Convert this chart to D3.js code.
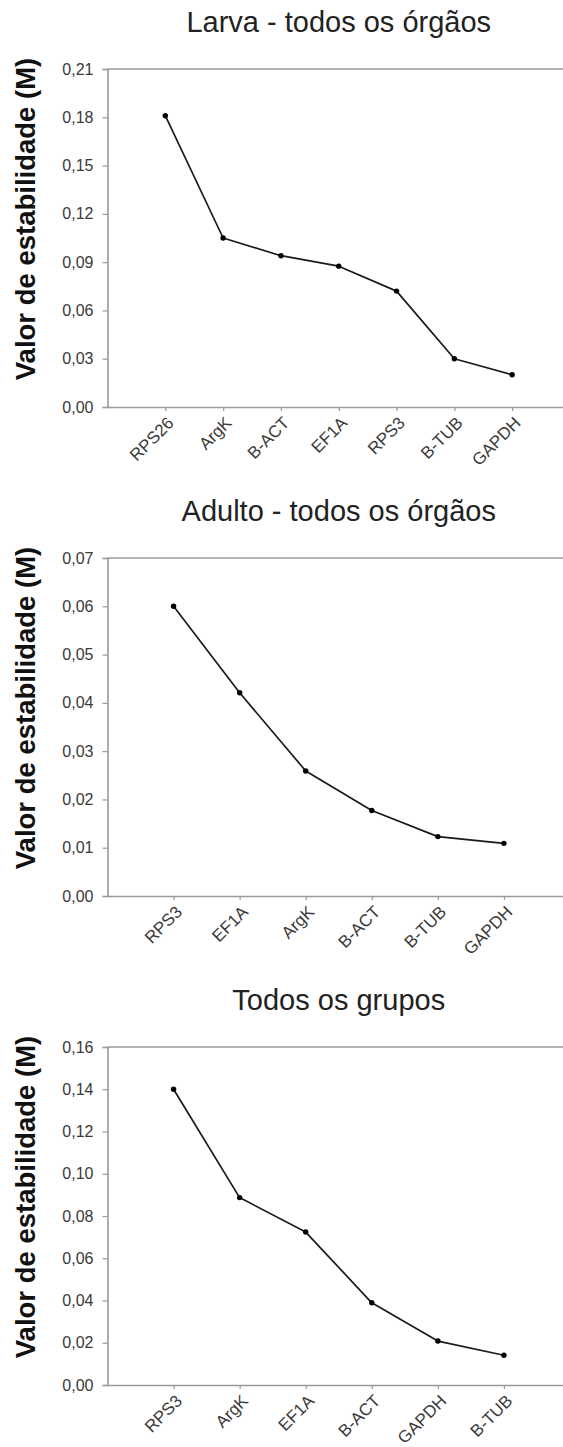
<!DOCTYPE html>
<html>
<head>
<meta charset="utf-8">
<script src="https://cdn.jsdelivr.net/npm/d3@7"></script>
<style>
  html, body { margin: 0; padding: 0; background: #fff; }
  svg { display: block; }
  text { font-family: "Liberation Sans", Arial, Helvetica, sans-serif; }
</style>
</head>
<body>
<div id="chart"></div>
<script>
// Gene stability values (geNorm M) for three sample groups
const larvaGenes  = ["RPS26", "ArgK", "B-ACT", "EF1A", "RPS3", "B-TUB", "GAPDH"];
const larvaM      = [0.181, 0.105, 0.094, 0.0875, 0.072, 0.030, 0.020];
const larvaTicks  = [0, 0.03, 0.06, 0.09, 0.12, 0.15, 0.18, 0.21];

const adultGenes  = ["RPS3", "EF1A", "ArgK", "B-ACT", "B-TUB", "GAPDH"];
const adultM      = [0.060, 0.0421, 0.0259, 0.0177, 0.0123, 0.0109];
const adultTicks  = [0, 0.01, 0.02, 0.03, 0.04, 0.05, 0.06, 0.07];

const allGenes    = ["RPS3", "ArgK", "EF1A", "B-ACT", "GAPDH", "B-TUB"];
const allM        = [0.140, 0.0887, 0.0724, 0.0389, 0.0208, 0.0141];
const allTicks    = [0, 0.02, 0.04, 0.06, 0.08, 0.10, 0.12, 0.14, 0.16];

const titles = ["Larva - todos os órgãos", "Adulto - todos os órgãos", "Todos os grupos"];
const yLabel = "Valor de estabilidade (M)";

const panels = [
  { title: titles[0], genes: larvaGenes, values: larvaM, ticks: larvaTicks },
  { title: titles[1], genes: adultGenes, values: adultM, ticks: adultTicks },
  { title: titles[2], genes: allGenes,   values: allM,   ticks: allTicks }
];

const W = 563, H = 1447;
const left = 107.5, right = 570;
const firstTop = 69, panelStep = 489, plotH = 338;

const ptBR = d3.formatLocale({ decimal: ",", thousands: ".", grouping: [3], currency: ["R$", ""] });
const fmt = ptBR.format(".2f");

const svg = d3.select("#chart").append("svg")
  .attr("width", W).attr("height", H);

const axisColor = "#9a9a9a";

panels.forEach((p, i) => {
  const top = firstTop + i * panelStep;
  const bottom = top + plotH;
  const g = svg.append("g");

  const n = p.genes.length;
  const x = d3.scaleLinear().domain([0, n + 1]).range([left, right]);
  const y = d3.scaleLinear().domain([0, d3.max(p.ticks)]).range([bottom, top]);

  // title, centred over the plot area
  g.append("text")
    .attr("x", (left + right) / 2).attr("y", top - 37)
    .attr("text-anchor", "middle")
    .attr("font-size", 29)
    .attr("fill", "#222")
    .text(p.title);

  // y axis title
  g.append("text")
    .attr("transform", `translate(35,${top + 150}) rotate(-90)`)
    .attr("text-anchor", "middle")
    .attr("font-size", 27.5)
    .attr("font-weight", "bold")
    .attr("fill", "#111")
    .text(yLabel);

  // top frame line
  g.append("line")
    .attr("x1", left).attr("x2", right)
    .attr("y1", top).attr("y2", top)
    .attr("stroke", axisColor).attr("stroke-width", 1.6);

  // y axis
  const yAxis = g.append("g")
    .attr("transform", `translate(${left},0)`)
    .call(d3.axisLeft(y).tickValues(p.ticks).tickFormat(fmt).tickSize(5).tickPadding(9));
  yAxis.select(".domain").attr("stroke", axisColor).attr("stroke-width", 1.6);
  yAxis.selectAll(".tick line").attr("stroke", axisColor).attr("stroke-width", 1.2);
  yAxis.selectAll(".tick text")
    .attr("font-size", 16).attr("fill", "#3a3a3a")
    .attr("font-family", "'Liberation Sans', Arial, sans-serif");

  // x axis
  const xAxis = g.append("g")
    .attr("transform", `translate(0,${bottom})`)
    .call(d3.axisBottom(x)
      .tickValues(d3.range(1, n + 1))
      .tickFormat(k => p.genes[k - 1])
      .tickSize(4).tickSizeOuter(0));
  xAxis.select(".domain").attr("stroke", axisColor).attr("stroke-width", 1.6);
  xAxis.selectAll(".tick line").attr("stroke", axisColor).attr("stroke-width", 1.2);
  xAxis.selectAll(".tick text")
    .attr("font-size", 17).attr("fill", "#3a3a3a")
    .attr("font-family", "'Liberation Sans', Arial, sans-serif")
    .attr("text-anchor", "end")
    .attr("x", null).attr("y", null).attr("dy", null)
    .attr("transform", "translate(9,17) rotate(-45)");

  // series line + markers
  const pts = p.values.map((v, k) => [x(k + 1), y(v)]);
  g.append("path")
    .datum(pts)
    .attr("d", d3.line())
    .attr("fill", "none")
    .attr("stroke", "#1a1a1a")
    .attr("stroke-width", 1.7)
    .attr("stroke-linejoin", "round");

  g.selectAll("circle.pt")
    .data(pts)
    .join("circle")
    .attr("class", "pt")
    .attr("cx", d => d[0]).attr("cy", d => d[1])
    .attr("r", 2.7)
    .attr("fill", "#000");
});
</script>
</body>
</html>
